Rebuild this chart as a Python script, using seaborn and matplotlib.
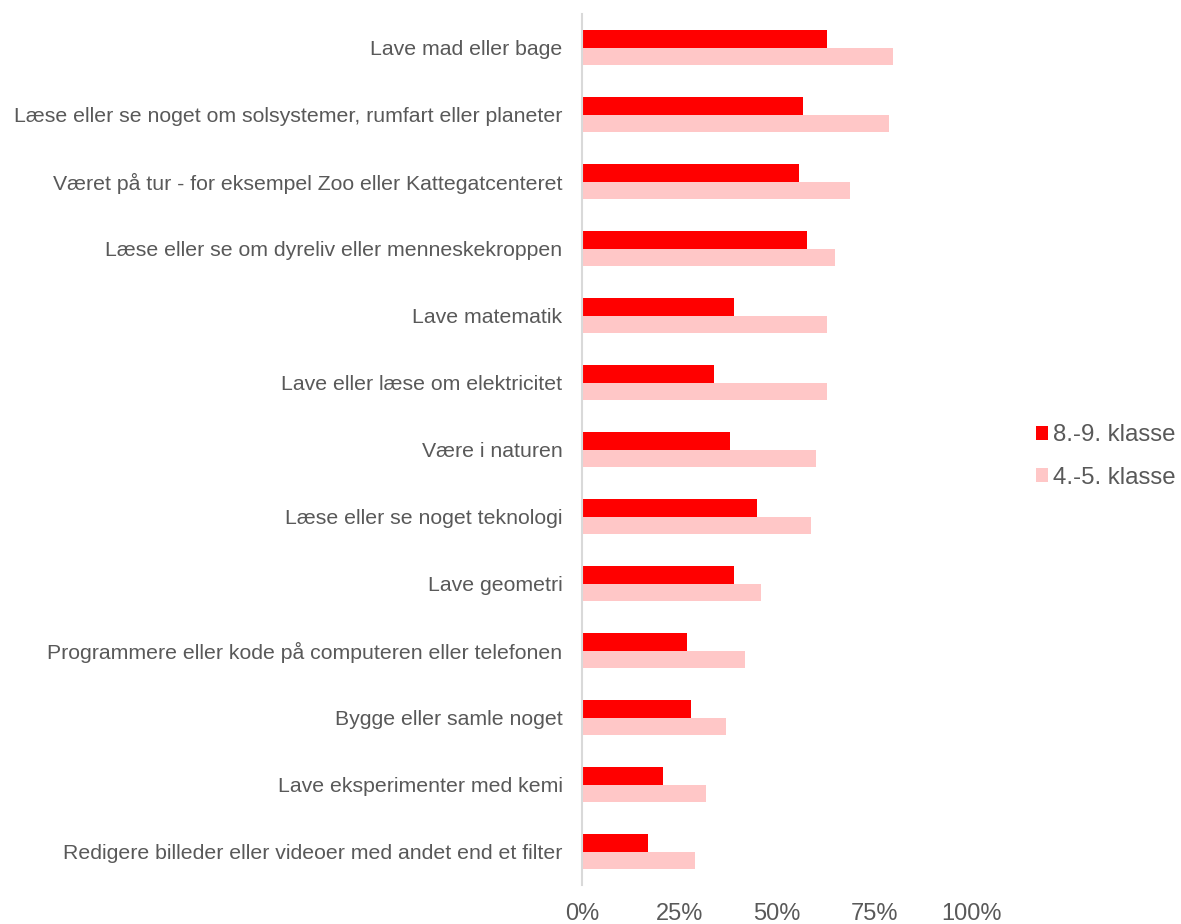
import pandas as pd
import numpy as np
import matplotlib.pyplot as plt
import seaborn as sns
from matplotlib.patches import Patch

# Data (share of pupils, %)
categories = [
    'Lave mad eller bage',
    'Læse eller se noget om solsystemer, rumfart eller planeter',
    'Været på tur - for eksempel Zoo eller Kattegatcenteret',
    'Læse eller se om dyreliv eller menneskekroppen',
    'Lave matematik',
    'Lave eller læse om elektricitet',
    'Være i naturen',
    'Læse eller se noget teknologi',
    'Lave geometri',
    'Programmere eller kode på computeren eller telefonen',
    'Bygge eller samle noget',
    'Lave eksperimenter med kemi',
    'Redigere billeder eller videoer med andet end et filter',
]
klasse_89 = [62.9, 56.8, 55.6, 57.7, 39.0, 33.8, 37.9, 44.9, 39.0, 26.9, 27.9, 20.8, 16.9]
klasse_45 = [79.7, 78.8, 68.7, 64.9, 62.8, 62.8, 60.0, 58.7, 45.9, 41.8, 36.9, 31.8, 29.0]
series = ['8.-9. klasse', '4.-5. klasse']
colors = ['#FF0000', '#FFC7C7']

df = pd.DataFrame({
    'Aktivitet': categories * 2,
    'Andel': np.array(klasse_89 + klasse_45) / 100,
    'Gruppe': [series[0]] * len(categories) + [series[1]] * len(categories),
})

sns.set_style('white')
plt.rcParams['font.family'] = ['Liberation Sans', 'DejaVu Sans']

fig = plt.figure(figsize=(11.81, 9.24), dpi=100)
ax = fig.add_axes([0.4928, 0.0422, 0.823 - 0.4928, 0.9848 - 0.0422])

sns.barplot(data=df, x='Andel', y='Aktivitet', hue='Gruppe', orient='h',
            palette=colors, saturation=1, width=0.52, linewidth=0,
            order=categories, hue_order=series, legend=False, ax=ax)

ax.set_xlim(0, 1)
ax.set_ylim(len(categories) - 0.5, -0.5)
ax.set_xticks([0, 0.25, 0.5, 0.75, 1.0])
ax.set_xticklabels(['0%', '25%', '50%', '75%', '100%'])
ax.set_xlabel('')
ax.set_ylabel('')
ax.tick_params(axis='x', length=0, pad=13, labelsize=17, labelcolor='#595959')
ax.tick_params(axis='y', length=0, pad=14, labelsize=15.3, labelcolor='#595959')

for side in ['top', 'right', 'bottom']:
    ax.spines[side].set_visible(False)
ax.spines['left'].set_color('#D9D9D9')
ax.spines['left'].set_linewidth(1.5)

handles = [Patch(facecolor=c, edgecolor='none') for c in colors]
fig.legend(handles, series, loc='center left', bbox_to_anchor=(0.877, 0.506),
           frameon=False, fontsize=17.3, labelcolor='#595959',
           handlelength=0.5, handleheight=0.5, handletextpad=0.2,
           labelspacing=0.85, borderpad=0, borderaxespad=0)

fig.savefig('out.png', dpi=100)
